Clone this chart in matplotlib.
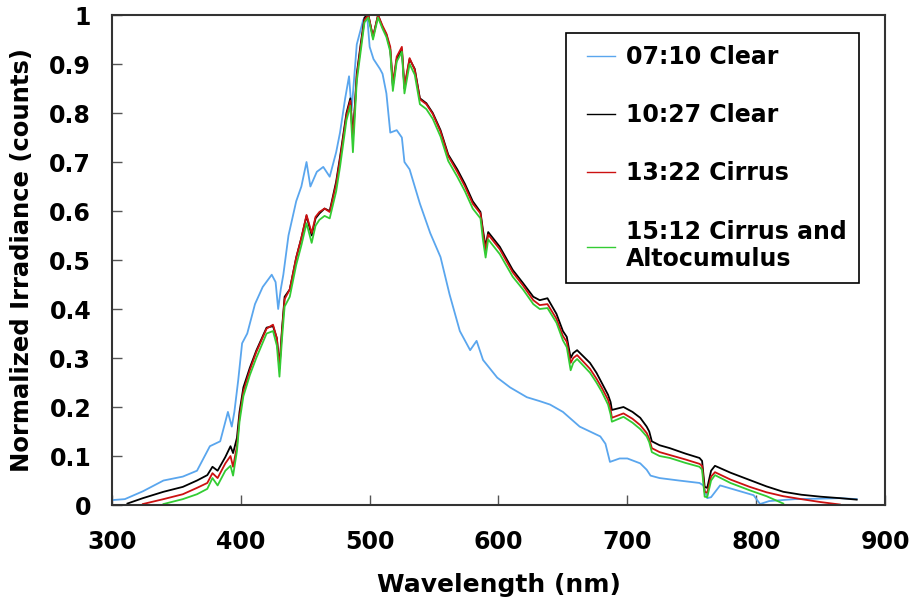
import numpy as np
from matplotlib import pyplot as plt
from matplotlib.lines import Line2D
from matplotlib.legend_handler import HandlerLine2D

# wavelength nodes (nm) shared by the three later spectra
wl = [312, 324, 340, 355, 366, 374, 378, 382, 388, 392, 394, 397, 399, 402, 407, 412,
      420, 425, 428, 430, 432, 434, 438, 443, 447, 451, 455, 458, 461, 465, 469, 474,
      477, 482, 485, 487, 490, 493, 496, 499, 502.6, 506.5, 510, 513, 516, 518, 521, 525,
      527, 531, 535, 539, 544, 549, 555, 561, 568, 574, 580, 586, 588, 590, 592, 601,
      611, 619, 627, 632, 638, 645, 650, 653, 656, 658, 661, 671, 676, 680, 685, 687,
      688, 697, 704, 710, 715, 717, 719, 725, 733, 745, 756, 758, 760, 762, 765, 768,
      780, 795, 808, 821, 835, 850, 865, 878]

clear_1027 = [0.003, 0.014, 0.027, 0.037, 0.050, 0.061, 0.078, 0.070, 0.098, 0.120, 0.106, 0.137, 0.190, 0.240, 0.280, 0.315,
              0.362, 0.365, 0.340, 0.282, 0.360, 0.425, 0.440, 0.505, 0.545, 0.590, 0.550, 0.585, 0.595, 0.605, 0.600, 0.660,
              0.710, 0.800, 0.830, 0.750, 0.880, 0.940, 0.995, 1.000, 0.955, 1.000, 0.975, 0.960, 0.930, 0.855, 0.910, 0.930,
              0.850, 0.910, 0.890, 0.830, 0.820, 0.800, 0.765, 0.715, 0.685, 0.655, 0.620, 0.598, 0.560, 0.527, 0.557, 0.527,
              0.480, 0.453, 0.425, 0.418, 0.422, 0.390, 0.355, 0.343, 0.300, 0.310, 0.316, 0.290, 0.270, 0.250, 0.225, 0.210,
              0.194, 0.200, 0.190, 0.178, 0.160, 0.150, 0.130, 0.122, 0.116, 0.105, 0.096, 0.090, 0.037, 0.035, 0.070, 0.080,
              0.066, 0.051, 0.038, 0.027, 0.021, 0.017, 0.014, 0.011]

cirrus_1322 = [np.nan, 0.002, 0.012, 0.022, 0.035, 0.045, 0.065, 0.055, 0.085, 0.100, 0.078, 0.120, 0.180, 0.232, 0.275, 0.312,
               0.360, 0.368, 0.340, 0.278, 0.355, 0.420, 0.440, 0.505, 0.545, 0.592, 0.555, 0.588, 0.598, 0.605, 0.598, 0.655,
               0.705, 0.795, 0.825, 0.745, 0.875, 0.935, 0.990, 1.000, 0.955, 1.000, 0.978, 0.962, 0.935, 0.860, 0.915, 0.935,
               0.855, 0.912, 0.888, 0.828, 0.818, 0.798, 0.762, 0.712, 0.680, 0.650, 0.615, 0.595, 0.555, 0.520, 0.552, 0.522,
               0.475, 0.448, 0.418, 0.408, 0.410, 0.380, 0.345, 0.333, 0.290, 0.300, 0.306, 0.278, 0.258, 0.240, 0.215, 0.195,
               0.178, 0.187, 0.176, 0.163, 0.147, 0.135, 0.116, 0.108, 0.102, 0.093, 0.084, 0.080, 0.027, 0.025, 0.058, 0.067,
               0.052, 0.037, 0.026, 0.018, 0.012, 0.006, 0.001, np.nan]

alto_1512 = [np.nan, np.nan, 0.002, 0.012, 0.022, 0.033, 0.055, 0.040, 0.070, 0.080, 0.060, 0.110, 0.170, 0.222, 0.265, 0.300,
             0.350, 0.355, 0.325, 0.262, 0.340, 0.405, 0.425, 0.490, 0.530, 0.575, 0.535, 0.570, 0.582, 0.590, 0.585, 0.640,
             0.690, 0.785, 0.815, 0.720, 0.865, 0.925, 0.985, 0.995, 0.950, 0.995, 0.972, 0.955, 0.925, 0.845, 0.905, 0.925,
             0.840, 0.900, 0.878, 0.818, 0.808, 0.788, 0.752, 0.702, 0.670, 0.640, 0.605, 0.585, 0.540, 0.505, 0.542, 0.512,
             0.466, 0.440, 0.410, 0.400, 0.402, 0.372, 0.336, 0.322, 0.275, 0.290, 0.298, 0.270, 0.250, 0.232, 0.205, 0.185,
             0.170, 0.180, 0.168, 0.155, 0.140, 0.128, 0.108, 0.100, 0.096, 0.086, 0.078, 0.072, 0.017, 0.016, 0.050, 0.061,
             0.045, 0.030, 0.018, 0.003, np.nan, np.nan, np.nan, np.nan]

# early morning spectrum has its own nodes
wl_0710 = [300, 310, 324, 340, 355, 366, 376, 384, 390, 393, 395, 398, 401, 405, 411, 417,
           424, 427, 429, 431, 433, 437, 443, 447, 451, 454, 459, 464, 469, 474, 477, 481,
           484, 486, 490, 495, 498, 500, 503, 508, 510, 513, 516, 521, 525, 527, 531, 535,
           539, 547, 555, 562, 570, 578, 583, 588, 599, 609, 622, 632, 640, 650, 663, 679,
           683, 686.5, 694, 700, 710, 715, 718, 725, 740, 756, 759, 762, 765, 772, 785, 798,
           803, 810, 830, 850, 865, 878]
clear_0710 = [0.010, 0.012, 0.028, 0.050, 0.058, 0.070, 0.120, 0.130, 0.190, 0.160, 0.190, 0.255, 0.330, 0.350, 0.410, 0.445,
              0.470, 0.455, 0.400, 0.440, 0.470, 0.550, 0.620, 0.650, 0.700, 0.650, 0.680, 0.690, 0.670, 0.720, 0.760, 0.830,
              0.875, 0.805, 0.940, 0.990, 1.000, 0.935, 0.910, 0.890, 0.880, 0.840, 0.760, 0.765, 0.750, 0.700, 0.685, 0.650,
              0.615, 0.555, 0.506, 0.430, 0.355, 0.316, 0.335, 0.296, 0.260, 0.240, 0.220, 0.212, 0.205, 0.190, 0.160, 0.140,
              0.125, 0.088, 0.095, 0.095, 0.085, 0.072, 0.060, 0.055, 0.050, 0.045, 0.040, 0.014, 0.016, 0.040, 0.030, 0.020,
              0.002, 0.008, 0.012, 0.013, 0.014, 0.012]

labels = ['07:10 Clear', '10:27 Clear', '13:22 Cirrus', '15:12 Cirrus and\nAltocumulus']
colors = ['#5aa6ee', 'black', '#cc1111', '#33cc33']

fig = plt.figure(figsize=(9.11, 6.03), dpi=100)
ax = fig.add_axes([0.1229, 0.1625, 0.8486, 0.8126])

ax.plot(wl_0710, clear_0710, color=colors[0], lw=1.3, label=labels[0])
ax.plot(wl, clear_1027, color=colors[1], lw=1.3, label=labels[1])
ax.plot(wl, cirrus_1322, color=colors[2], lw=1.3, label=labels[2])
ax.plot(wl, alto_1512, color=colors[3], lw=1.3, label=labels[3])

ax.set_xlim(300, 900)
ax.set_ylim(0, 1)
ax.set_xticks(range(300, 901, 100))
ax.set_yticks(np.arange(0, 1.01, 0.1))
ax.set_yticklabels(['0', '0.1', '0.2', '0.3', '0.4', '0.5', '0.6', '0.7', '0.8', '0.9', '1'])
ax.tick_params(direction='in', length=7, width=1, color='#555555', labelsize=17)
ax.tick_params(axis='x', pad=18)
ax.tick_params(axis='y', pad=15)
for t in ax.get_xticklabels() + ax.get_yticklabels():
    t.set_fontweight('bold')
for s in ax.spines.values():
    s.set_linewidth(1.5)
    s.set_color('#333333')

ax.set_xlabel('Wavelength (nm)', fontsize=18, fontweight='bold', labelpad=14)
ax.set_ylabel('Normalized Irradiance (counts)', fontsize=17.5, fontweight='bold', labelpad=11)

leg = ax.legend(loc='upper left', bbox_to_anchor=(0.587, 0.963), fancybox=False,
                edgecolor='black', framealpha=1, prop={'size': 17, 'weight': 'bold'},
                labelspacing=1.45, handlelength=1.6, handletextpad=0.45, borderpad=0.5,
                borderaxespad=0, handler_map={Line2D: HandlerLine2D(xpad=0.38)})
leg.get_frame().set_linewidth(1.2)
for line in leg.get_lines():
    line.set_linewidth(1)

plt.savefig('out.png', dpi=100)
